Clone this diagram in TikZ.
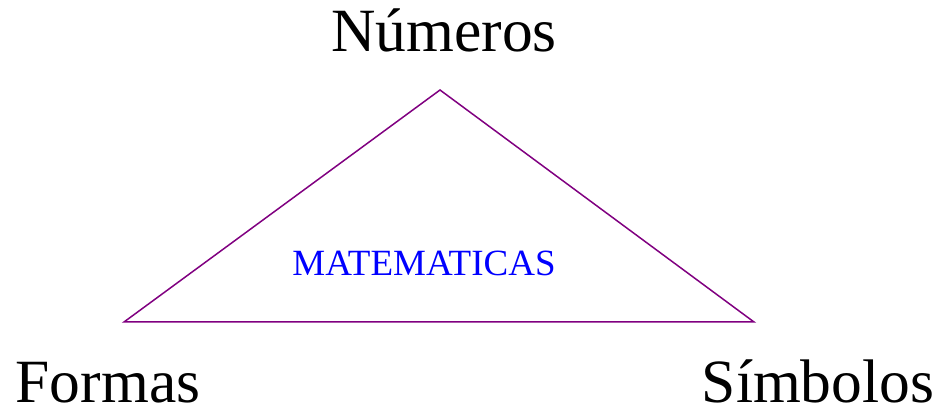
\documentclass[tikz,border=0pt]{standalone}
\usepackage{fontspec}
\setmainfont{Liberation Serif}
\usetikzlibrary{positioning}
\definecolor{trianglepurple}{RGB}{128,0,128}

\begin{document}
\begin{tikzpicture}[
    x=1pt, y=1pt,
    every node/.style={inner sep=0pt, anchor=base},
    corner label/.style={font=\fontsize{61.5}{61.5}\selectfont},
    center label/.style={font=\fontsize{37}{37}\selectfont, text=blue}
]
\useasboundingbox (0,0) rectangle (941,412);
% vertices of the triangle
\coordinate (top_vertex) at (440,322);
\coordinate (left_vertex) at (124,90);
\coordinate (right_vertex) at (754,90);

\draw[trianglepurple, line width=1.5pt] (top_vertex) -- (left_vertex) -- (right_vertex) -- cycle;

\node (numeros_label) [corner label] at (444,360) {Números};
\node (formas_label) [corner label] at (108,10) {Formas};
\node (simbolos_label) [corner label] at (818,10) {Símbolos};
\node (matematicas_label) [center label] at (424,136) {MATEMATICAS};
\end{tikzpicture}
\end{document}
